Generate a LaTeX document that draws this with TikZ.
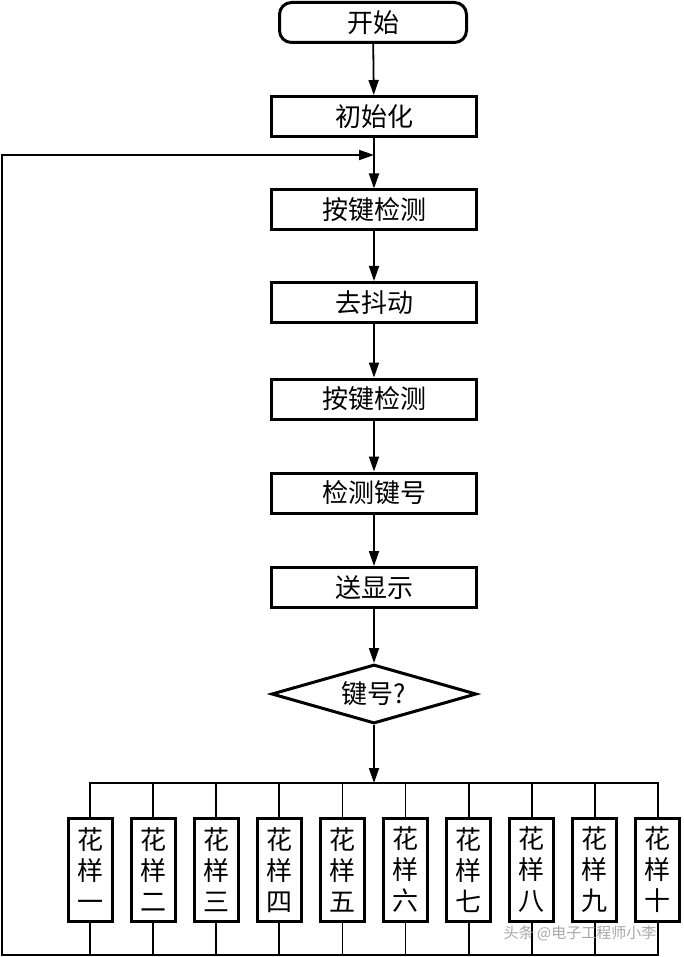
\documentclass[tikz,border=0pt]{standalone}
\usepackage{fontspec}
\newfontfamily\cjk{Noto Sans CJK SC}
\usetikzlibrary{shapes.geometric,arrows.meta}

\begin{document}
\begin{tikzpicture}[x=1pt,y=-1pt,font=\cjk\fontsize{26}{31}\selectfont,
        box/.style={draw,line width=3pt,minimum width=205pt,minimum height=40pt,inner sep=0pt},
        pat/.style={draw,line width=3pt,minimum width=44pt,minimum height=103pt,inner sep=0pt,align=center},
        flow/.style={line width=1.8pt,-{Triangle[length=15pt,width=10pt]}},
        wire/.style={line width=1.8pt}]
        \useasboundingbox (0,0) rectangle (684,957);

        \node[box,rounded corners=12pt,minimum width=187pt] (start) at (373,22.5) {开始};
        \node[box] (init) at (374,116.5) {初始化};
        \node[box] (scan1) at (374,210) {按键检测};
        \node[box] (debounce) at (374,302.5) {去抖动};
        \node[box] (scan2) at (374,399) {按键检测};
        \node[box] (keynum) at (374,493) {检测键号};
        \node[box] (disp) at (374,587.5) {送显示};
        \node[draw,diamond,aspect=3.35,line width=3pt,minimum width=205pt,minimum height=59pt,inner sep=0pt] (dec) at (374,694) {键号?};

        \foreach \i/\t in {1/一,2/二,3/三,4/四,5/五,6/六,7/七,8/八,9/九,10/十}
                {\node[pat] (p\i) at (90+63.1*\i-63.1,870) {花\\样\\\t};}

        \coordinate (merge) at (374,155);
        \coordinate (topbus) at (374,783);
        \coordinate (botL) at (2,955);

        \draw[flow] (start) -- (init);
        \draw[flow] (init) -- (scan1);
        \draw[flow] (scan1) -- (debounce);
        \draw[flow] (debounce) -- (scan2);
        \draw[flow] (scan2) -- (keynum);
        \draw[flow] (keynum) -- (disp);
        \draw[flow] (disp) -- (dec);
        \draw[flow] (dec) -- (topbus);

        \draw[wire] (p1.north) |- (p10.north |- topbus) -- (p10.north);
        \foreach \i in {2,...,9} {\draw[wire] (p\i.north) -- (p\i.north |- topbus);}
        \foreach \i in {1,...,9} {\draw[wire] (p\i.south) -- (p\i.south |- botL);}
        \draw[flow] (p10.south) |- (botL) |- (merge);

        \node[text=gray!70,font=\cjk\fontsize{15}{15}\selectfont] (mark) at (580,933) {头条 @电子工程师小李};
\end{tikzpicture}
\end{document}
